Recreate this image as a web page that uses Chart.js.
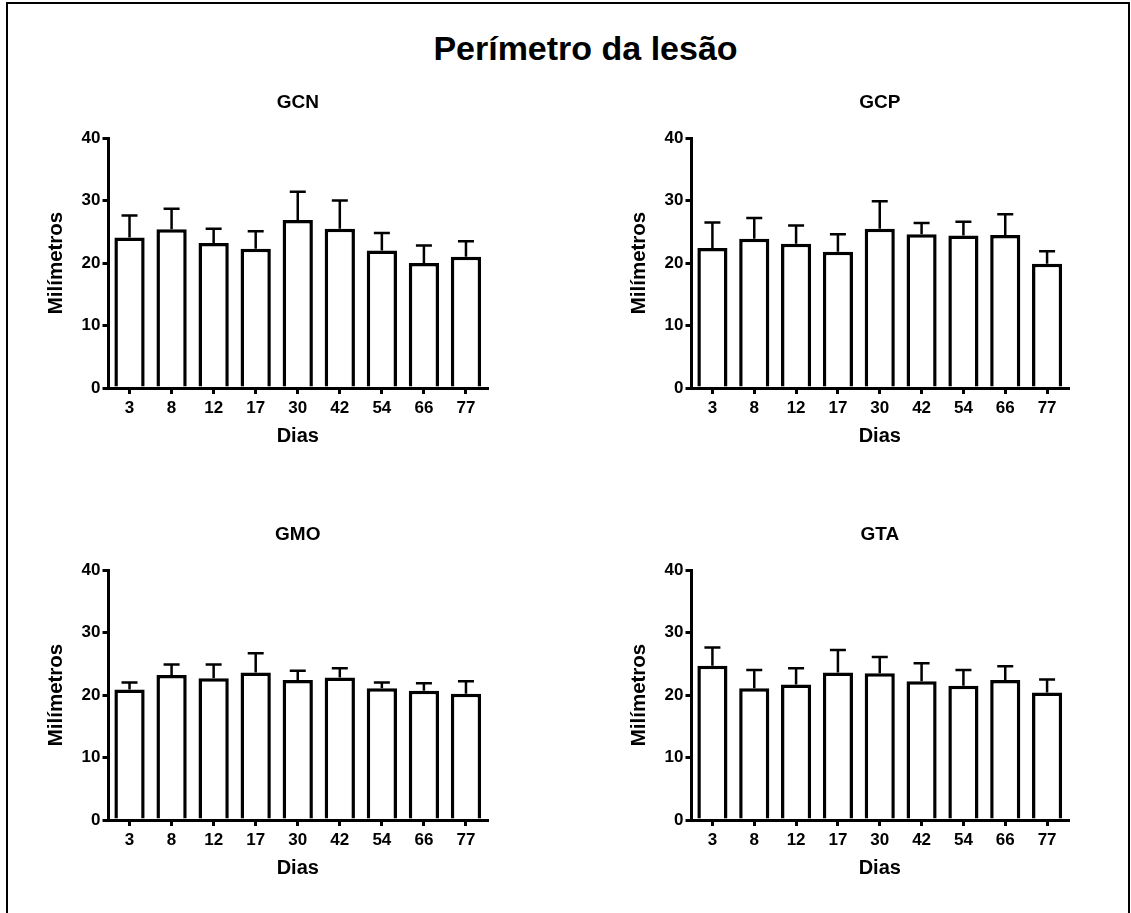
<!DOCTYPE html>
<html>
<head>
<meta charset="utf-8">
<script src="https://cdn.jsdelivr.net/npm/chart.js@4.4.1/dist/chart.umd.min.js"></script>
<style>
  body { margin: 0; background: #fff; width: 1131px; height: 913px; overflow: hidden; position: relative;
         font-family: 'Liberation Sans', Arial, sans-serif; }
  #moldura { position: absolute; left: 6px; top: 2px; width: 1120px; height: 940px;
             border: 2px solid #000; border-bottom: none; }
  #tituloGeral { position: absolute; left: 20px; top: 29px; width: 1131px; text-align: center;
                 font-weight: bold; font-size: 34px; line-height: 38px; color: #000; }
  .painel { position: absolute; }
</style>
</head>
<body>
<div id="moldura"></div>
<div id="tituloGeral">Perímetro da lesão</div>
<canvas id="gcn" class="painel" width="477" height="380" style="left:30px;top:80px"></canvas>
<canvas id="gcp" class="painel" width="475" height="380" style="left:613px;top:80px"></canvas>
<canvas id="gmo" class="painel" width="477" height="380" style="left:30px;top:512px"></canvas>
<canvas id="gta" class="painel" width="475" height="380" style="left:613px;top:512px"></canvas>
<script>
// dias de avaliação (eixo x)
const dias = ['3', '8', '12', '17', '30', '42', '54', '66', '77']

// médias e erro padrão de cada grupo (mm)
const gcnMedia = [24.1, 25.4, 23.2, 22.3, 26.9, 25.5, 22.0, 20.0, 21.0]
const gcnErro = [3.5, 3.3, 2.3, 2.8, 4.5, 4.5, 2.8, 2.8, 2.5]
const gcpMedia = [22.4, 23.9, 23.1, 21.8, 25.5, 24.6, 24.4, 24.5, 19.9]
const gcpErro = [4.1, 3.3, 2.9, 2.8, 4.4, 1.8, 2.2, 3.3, 2.0]
const gmoMedia = [20.9, 23.2, 22.7, 23.6, 22.4, 22.8, 21.1, 20.7, 20.2]
const gmoErro = [1.1, 1.7, 2.2, 3.1, 1.5, 1.5, 0.9, 1.2, 2.0]
const gtaMedia = [24.7, 21.1, 21.7, 23.6, 23.5, 22.2, 21.5, 22.4, 20.4]
const gtaErro = [2.9, 2.9, 2.6, 3.6, 2.6, 2.9, 2.5, 2.2, 2.1]

const yMin = 0
const yMax = 40
const yPasso = 10

Chart.defaults.font.family = "'Liberation Sans', Arial, sans-serif"
Chart.defaults.color = '#000'

// desenha as barras de erro (só para cima) por cima das colunas
const barrasDeErro = {
  id: 'barrasDeErro',
  afterDatasetsDraw(chart) {
    const ctx = chart.ctx
    const escalaY = chart.scales.y
    chart.data.datasets.forEach((ds, i) => {
      const meta = chart.getDatasetMeta(i)
      meta.data.forEach((barra, j) => {
        const topo = escalaY.getPixelForValue(ds.data[j] + ds.erro[j])
        ctx.save()
        ctx.strokeStyle = '#000'
        ctx.lineWidth = 2.5
        ctx.beginPath()
        ctx.moveTo(barra.x, barra.y)
        ctx.lineTo(barra.x, topo)
        ctx.moveTo(barra.x - 8, topo)
        ctx.lineTo(barra.x + 8, topo)
        ctx.stroke()
        ctx.restore()
      })
    })
  }
}

function criarPainel(id, titulo, media, erro) {
  const ctx = document.getElementById(id).getContext('2d')
  return new Chart(ctx, {
    type: 'bar',
    data: {
      labels: dias,
      datasets: [{
        data: media,
        erro: erro,
        backgroundColor: '#fff',
        borderColor: '#000',
        borderWidth: 3.5,
        barPercentage: 0.72,
        categoryPercentage: 1
      }]
    },
    plugins: [barrasDeErro],
    options: {
      responsive: false,
      animation: false,
      events: [],
      layout: { padding: { left: 0, right: 20, top: 0, bottom: 0 } },
      plugins: {
        legend: { display: false },
        tooltip: { enabled: false },
        title: {
          display: true,
          text: titulo,
          fullSize: false,
          color: '#000',
          font: { size: 19, weight: 'bold' },
          padding: { top: 11.6, bottom: 23.6 }
        }
      },
      scales: {
        x: {
          grid: { display: true, drawOnChartArea: false, offset: false, tickLength: 6, lineWidth: 3, color: '#000' },
          border: { display: true, color: '#000', width: 3 },
          ticks: { color: '#000', font: { size: 17, weight: 'bold' }, padding: 4, maxRotation: 0, autoSkip: false },
          title: { display: true, text: 'Dias', color: '#000', font: { size: 20, weight: 'bold' }, padding: { top: 0, bottom: 12 } },
          afterFit(s) { s.height = 72 }
        },
        y: {
          min: yMin,
          max: yMax,
          ticks: { stepSize: yPasso, color: '#000', font: { size: 17, weight: 'bold' }, padding: 2 },
          grid: { drawOnChartArea: false, tickLength: 6, lineWidth: 3, color: '#000' },
          border: { display: true, color: '#000', width: 3 },
          title: { display: true, text: 'Milímetros', color: '#000', font: { size: 20.5, weight: 'bold' }, padding: { top: 14, bottom: 0 } },
          afterFit(s) { s.width = 78.5 }
        }
      }
    }
  })
}

criarPainel('gcn', 'GCN', gcnMedia, gcnErro)
criarPainel('gcp', 'GCP', gcpMedia, gcpErro)
criarPainel('gmo', 'GMO', gmoMedia, gmoErro)
criarPainel('gta', 'GTA', gtaMedia, gtaErro)
</script>
</body>
</html>
